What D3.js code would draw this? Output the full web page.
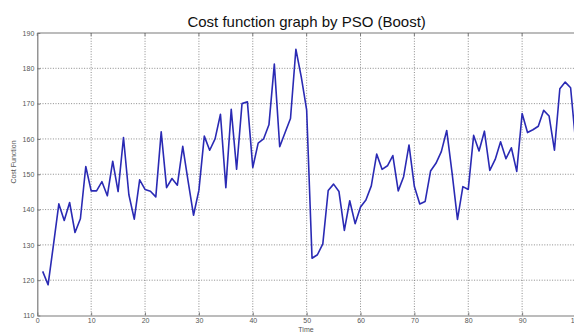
<!DOCTYPE html>
<html>
<head>
<meta charset="utf-8">
<script src="https://cdn.jsdelivr.net/npm/d3@7"></script>
<style>
  html, body { margin: 0; padding: 0; background: #fff; }
  svg { display: block; font-family: "Liberation Sans", Arial, Helvetica, sans-serif; }
</style>
</head>
<body>
<svg id="chart" width="574" height="333"></svg>
<script>
// Iteration index and the cost value recorded at each step
const timeSteps = d3.range(1, 101);
const costValues = [
  122.5, 118.7, 130.0, 141.6, 136.9, 142.0, 133.5, 137.4, 152.2, 145.3,
  145.3, 147.9, 143.9, 153.7, 145.1, 160.4, 144.2, 137.3, 148.4, 145.7,
  145.2, 143.6, 162.0, 146.2, 148.8, 146.9, 157.9, 148.0, 138.4, 145.5,
  160.8, 156.8, 160.0, 167.0, 146.2, 168.4, 151.4, 170.0, 170.5, 151.9,
  158.8, 160.0, 164.0, 181.2, 157.8, 161.8, 165.8, 185.4, 177.6, 168.2,
  126.2, 127.2, 130.3, 145.4, 147.2, 145.1, 134.1, 142.5, 136.0, 140.7,
  142.7, 146.7, 155.7, 151.4, 152.4, 155.3, 145.3, 149.3, 158.3, 146.5,
  141.6, 142.3, 150.9, 153.1, 156.4, 162.4, 150.3, 137.2, 146.5, 145.7,
  161.0, 156.6, 162.2, 151.1, 154.2, 159.2, 154.4, 157.5, 150.8, 167.2,
  161.8, 162.6, 163.6, 168.1, 166.5, 156.8, 174.2, 176.1, 174.5, 158.0
];
const xTicks = [0, 10, 20, 30, 40, 50, 60, 70, 80, 90, 100];
const yTicks = [110, 120, 130, 140, 150, 160, 170, 180, 190];

const titleText = "Cost function graph by PSO (Boost)";
const xLabelText = "Time";
const yLabelText = "Cost Function";

const svg = d3.select("#chart");
const plotLeft = 37.3, plotRight = 576, plotTop = 33, plotBottom = 315.5;

const x = d3.scaleLinear().domain([0, 100]).range([plotLeft, plotRight]);
const y = d3.scaleLinear().domain([110, 190]).range([plotBottom, plotTop]);

// Dotted grid
const grid = svg.append("g")
  .attr("stroke", "#6f6f6f")
  .attr("stroke-width", 0.8)
  .attr("stroke-dasharray", "1,1.6");
grid.selectAll("line.gx")
  .data(xTicks.filter(d => d > 0 && d < 100))
  .join("line")
  .attr("class", "gx")
  .attr("x1", d => x(d)).attr("x2", d => x(d))
  .attr("y1", plotTop).attr("y2", plotBottom);
grid.selectAll("line.gy")
  .data(yTicks.filter(d => d > 110 && d < 190))
  .join("line")
  .attr("class", "gy")
  .attr("x1", plotLeft).attr("x2", plotRight)
  .attr("y1", d => y(d)).attr("y2", d => y(d));

// Axes with inward ticks
const axisColor = "#7a7a7a";
const xAxis = svg.append("g")
  .attr("transform", `translate(0,${plotBottom})`)
  .call(d3.axisBottom(x).tickValues(xTicks).tickFormat(d3.format("d"))
    .tickSizeInner(-3).tickSizeOuter(0).tickPadding(3));
const yAxis = svg.append("g")
  .attr("transform", `translate(${plotLeft},0)`)
  .call(d3.axisLeft(y).tickValues(yTicks).tickFormat(d3.format("d"))
    .tickSizeInner(-3).tickSizeOuter(0).tickPadding(3));
[xAxis, yAxis].forEach(g => {
  g.select(".domain").attr("stroke", axisColor).attr("stroke-width", 1.2);
  g.selectAll(".tick line").attr("stroke", axisColor);
  g.selectAll(".tick text").attr("fill", "#555").attr("font-size", 7);
});

// Top frame edge with inward ticks
svg.append("line")
  .attr("x1", plotLeft).attr("x2", plotRight)
  .attr("y1", plotTop).attr("y2", plotTop)
  .attr("stroke", axisColor).attr("stroke-width", 1.2);
svg.append("g").selectAll("line")
  .data(xTicks)
  .join("line")
  .attr("x1", d => x(d)).attr("x2", d => x(d))
  .attr("y1", plotTop).attr("y2", plotTop + 3)
  .attr("stroke", axisColor);

// Cost curve
const line = d3.line()
  .x((d, i) => x(timeSteps[i]))
  .y(d => y(d));
svg.append("path")
  .datum(costValues)
  .attr("fill", "none")
  .attr("stroke", "#2a2ab4")
  .attr("stroke-width", 1.6)
  .attr("stroke-linejoin", "round")
  .attr("d", line);

// Title and axis labels
svg.append("text")
  .attr("x", (plotLeft + plotRight) / 2).attr("y", 26.5)
  .attr("text-anchor", "middle")
  .attr("font-size", 15)
  .attr("fill", "#111")
  .text(titleText);
svg.append("text")
  .attr("x", 306).attr("y", 332)
  .attr("text-anchor", "middle")
  .attr("font-size", 7)
  .attr("fill", "#555")
  .text(xLabelText);
svg.append("text")
  .attr("transform", "translate(16,162) rotate(-90)")
  .attr("text-anchor", "middle")
  .attr("font-size", 7)
  .attr("fill", "#555")
  .text(yLabelText);
</script>
</body>
</html>
